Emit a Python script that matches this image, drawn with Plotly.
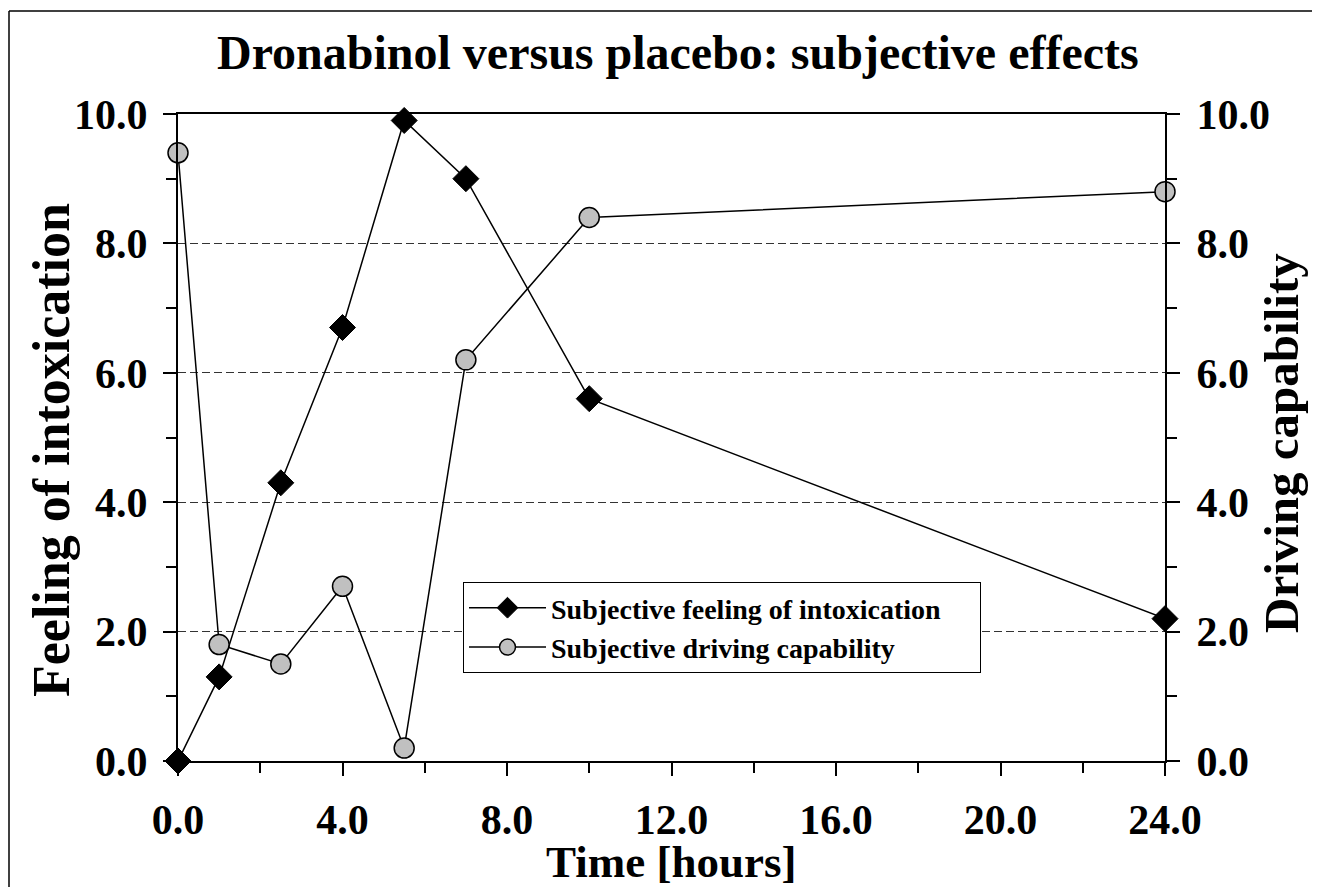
import plotly.graph_objects as go

time_h = [0, 1, 2.5, 4, 5.5, 7, 10, 24]
intoxication = [0.0, 1.3, 4.3, 6.7, 9.9, 9.0, 5.6, 2.2]
driving = [9.4, 1.8, 1.5, 2.7, 0.2, 6.2, 8.4, 8.8]

title_text = "Dronabinol versus placebo: subjective effects"
name_intox = "Subjective feeling of intoxication"
name_drive = "Subjective driving capability"
x_title = "Time [hours]"
y_title = "Feeling of intoxication"
y2_title = "Driving capability"

FONT = "Liberation Serif, Times New Roman, serif"
OFF = 8                      # page body margin
W, H = 1320 - 2 * OFF, 895 - 2 * OFF
L, R, T, B = 178, 1165, 114, 761  # plot area edges in screen pixels

def px_x(px):
    return (px - L) / (R - L)

def px_y(py):
    return (B - py) / (B - T)

fig = go.Figure()
fig.add_trace(go.Scatter(
    x=time_h, y=intoxication, name=name_intox, mode="lines+markers",
    line=dict(color="black", width=1.5),
    marker=dict(symbol="diamond", size=20, color="black", line=dict(color="black", width=1)),
    cliponaxis=False, yaxis="y"))
fig.add_trace(go.Scatter(
    x=time_h, y=driving, name=name_drive, mode="lines+markers",
    line=dict(color="black", width=1.5),
    marker=dict(symbol="circle", size=20, color="#C0C0C0", line=dict(color="black", width=1.5)),
    cliponaxis=False, yaxis="y2"))

tickfont = dict(family=FONT, size=42, color="black", weight="bold")

fig.update_layout(
    width=W, height=H,
    margin=dict(l=L - OFF, r=W - (R - OFF), t=T - OFF, b=H - (B - OFF), pad=0),
    paper_bgcolor="white", plot_bgcolor="white",
    showlegend=True,
    legend=dict(x=px_x(463), y=px_y(582), xanchor="left", yanchor="top",
                orientation="h", entrywidth=424, entrywidthmode="pixels",
                bgcolor="white", bordercolor="black", borderwidth=1,
                font=dict(family=FONT, size=28, color="black", weight="bold"),
                itemsizing="trace", itemwidth=77),
    xaxis=dict(range=[0, 24], dtick=4, tick0=0, tickformat=".1f",
               showline=True, linecolor="black", linewidth=2, mirror=True,
               ticks="outside", ticklen=13, tickwidth=1.5, tickcolor="black",
               minor=dict(dtick=2, ticks="outside", ticklen=10, tickwidth=1.5, tickcolor="black", showgrid=False),
               showgrid=False, zeroline=False, tickfont=tickfont, ticklabelstandoff=8),
    yaxis=dict(range=[0, 10], dtick=2, tick0=0, tickformat=".1f",
               showline=True, linecolor="black", linewidth=2,
               ticks="outside", ticklen=13, tickwidth=1.5, tickcolor="black",
               minor=dict(dtick=1, ticks="outside", ticklen=10, tickwidth=1.5, tickcolor="black", showgrid=False),
               showgrid=True, gridcolor="#333333", gridwidth=1, griddash="8px,4px",
               zeroline=False, tickfont=tickfont, ticklabelstandoff=7),
    yaxis2=dict(range=[0, 10], dtick=2, tick0=0, tickformat=".1f", overlaying="y", side="right",
                showline=True, linecolor="black", linewidth=2,
                ticks="outside", ticklen=13, tickwidth=1.5, tickcolor="black",
                minor=dict(dtick=1, ticks="outside", ticklen=10, tickwidth=1.5, tickcolor="black", showgrid=False),
                showgrid=False, zeroline=False, tickfont=tickfont, ticklabelstandoff=8),
)

fig.add_annotation(text=title_text, xref="paper", yref="paper", x=px_x(678), y=px_y(53),
                   xanchor="center", yanchor="middle", showarrow=False,
                   font=dict(family=FONT, size=48, color="black", weight="bold"))
fig.add_annotation(text=x_title, xref="paper", yref="paper", x=px_x(671), y=px_y(862),
                   xanchor="center", yanchor="middle", showarrow=False,
                   font=dict(family=FONT, size=45, color="black", weight="bold"))
fig.add_annotation(text=y_title, xref="paper", yref="paper", x=px_x(51), y=px_y(450),
                   xanchor="center", yanchor="middle", showarrow=False, textangle=-90,
                   font=dict(family=FONT, size=52, color="black", weight="bold"))
fig.add_annotation(text=y2_title, xref="paper", yref="paper", x=px_x(1281), y=px_y(443),
                   xanchor="center", yanchor="middle", showarrow=False, textangle=-90,
                   font=dict(family=FONT, size=49, color="black", weight="bold"))

# outer chart border: only left and top edges fall inside the picture
fig.add_shape(type="line", xref="paper", yref="paper",
              x0=px_x(9), x1=px_x(9), y0=px_y(11), y1=px_y(920),
              line=dict(color="black", width=1.5), layer="below")
fig.add_shape(type="line", xref="paper", yref="paper",
              x0=px_x(9), x1=px_x(1340), y0=px_y(11), y1=px_y(11),
              line=dict(color="black", width=1.5), layer="below")

fig.write_html("out.html")
